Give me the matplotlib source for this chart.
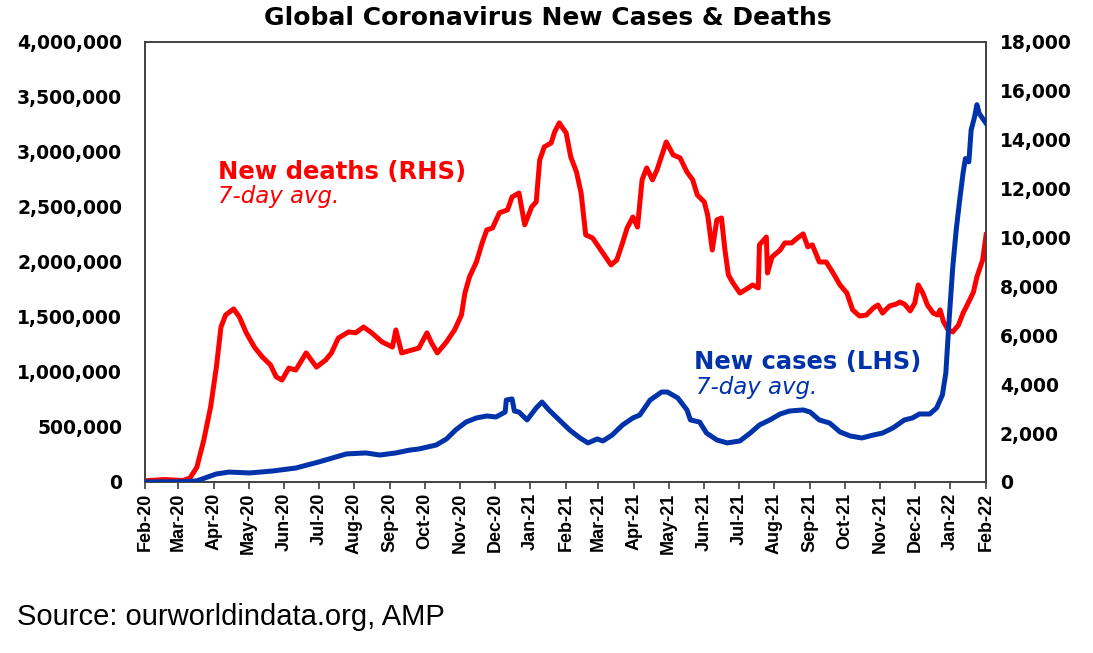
"""Global Coronavirus New Cases & Deaths — 7-day averages, dual axis."""

import matplotlib
matplotlib.use("Agg")
import matplotlib.pyplot as plt
import matplotlib.dates as mdates
import pandas as pd
from matplotlib.ticker import FuncFormatter, MultipleLocator

plt.rcParams["font.family"] = ["Liberation Sans", "DejaVu Sans"]
WIDE = ["DejaVu Sans"]  # the chart's bold labels are set in a wide face

# ── Data ──────────────────────────────────────────────────────────
DEATH_DATES = [
    "2020-02-01", "2020-02-18", "2020-03-05", "2020-03-11", "2020-03-17",
    "2020-03-23", "2020-03-29", "2020-04-03", "2020-04-07", "2020-04-11",
    "2020-04-18", "2020-04-23", "2020-04-29", "2020-05-06", "2020-05-13",
    "2020-05-20", "2020-05-25", "2020-05-30", "2020-06-05", "2020-06-11",
    "2020-06-20", "2020-06-29", "2020-07-07", "2020-07-12", "2020-07-18",
    "2020-07-27", "2020-08-02", "2020-08-09", "2020-08-16", "2020-08-25",
    "2020-09-03", "2020-09-06", "2020-09-11", "2020-09-20", "2020-09-26",
    "2020-10-03", "2020-10-07", "2020-10-12", "2020-10-20", "2020-10-27",
    "2020-11-02", "2020-11-05", "2020-11-09", "2020-11-15", "2020-11-20",
    "2020-11-24", "2020-11-29", "2020-12-05", "2020-12-12", "2020-12-16",
    "2020-12-22", "2020-12-27", "2021-01-02", "2021-01-06", "2021-01-09",
    "2021-01-13", "2021-01-19", "2021-01-22", "2021-01-26", "2021-02-01",
    "2021-02-05", "2021-02-10", "2021-02-14", "2021-02-18", "2021-02-24",
    "2021-03-02", "2021-03-06", "2021-03-12", "2021-03-17", "2021-03-22",
    "2021-03-26", "2021-03-31", "2021-04-04", "2021-04-08", "2021-04-12",
    "2021-04-17", "2021-04-21", "2021-04-29", "2021-05-05", "2021-05-11",
    "2021-05-17", "2021-05-22", "2021-05-26", "2021-06-01", "2021-06-04",
    "2021-06-08", "2021-06-12", "2021-06-16", "2021-06-19", "2021-06-22",
    "2021-06-26", "2021-07-02", "2021-07-08", "2021-07-13", "2021-07-18",
    "2021-07-19", "2021-07-25", "2021-07-26", "2021-07-30", "2021-08-06",
    "2021-08-10", "2021-08-16", "2021-08-21", "2021-08-26", "2021-08-30",
    "2021-09-03", "2021-09-09", "2021-09-15", "2021-09-21", "2021-09-27",
    "2021-10-03", "2021-10-08", "2021-10-14", "2021-10-20", "2021-10-26",
    "2021-10-30", "2021-11-03", "2021-11-09", "2021-11-15", "2021-11-18",
    "2021-11-22", "2021-11-27", "2021-12-01", "2021-12-04", "2021-12-08",
    "2021-12-12", "2021-12-17", "2021-12-21", "2021-12-23", "2021-12-26",
    "2021-12-30", "2022-01-03", "2022-01-08", "2022-01-12", "2022-01-16",
    "2022-01-21", "2022-01-24", "2022-01-29", "2022-02-01",
]
DEATHS = [
    50, 100, 60, 160, 600,
    1700, 3070, 4700, 6340, 6830,
    7080, 6750, 6100, 5520, 5110,
    4790, 4300, 4170, 4660, 4580,
    5280, 4700, 4990, 5280, 5890,
    6140, 6100, 6340, 6100, 5730,
    5520, 6220, 5280, 5400, 5480,
    6100, 5690, 5280, 5730, 6220,
    6830, 7730, 8390, 9000, 9780,
    10310, 10390, 11010, 11130, 11660,
    11820, 10520, 11250, 11460, 13170,
    13710, 13870, 14320, 14690, 14280,
    13300, 12680, 11820, 10110, 9980,
    9570, 9290, 8880, 9080, 9780,
    10390, 10840, 10430, 12360, 12850,
    12360, 12770, 13910, 13380, 13260,
    12680, 12360, 11740, 11460, 10920,
    9490, 10720, 10800, 9490, 8470,
    8140, 7730, 7900, 8060, 7940,
    9700, 10020, 8550, 9210, 9490,
    9780, 9780, 9980, 10150, 9620,
    9700, 9000, 9000, 8550, 8060,
    7730, 7040, 6790, 6830, 7120,
    7240, 6910, 7200, 7280, 7360,
    7280, 7000, 7320, 8060, 7730,
    7240, 6910, 6830, 7040, 6550,
    6220, 6140, 6420, 6910, 7280,
    7770, 8390, 9080, 10110,
]

CASE_DATES = [
    "2020-02-01", "2020-03-05", "2020-03-17", "2020-03-25", "2020-04-03",
    "2020-04-14", "2020-05-02", "2020-05-22", "2020-06-11", "2020-07-01",
    "2020-07-25", "2020-08-11", "2020-08-23", "2020-09-06", "2020-09-18",
    "2020-09-26", "2020-10-11", "2020-10-20", "2020-10-28", "2020-11-06",
    "2020-11-15", "2020-11-24", "2020-12-02", "2020-12-10", "2020-12-11",
    "2020-12-16", "2020-12-18", "2020-12-22", "2020-12-29", "2021-01-06",
    "2021-01-11", "2021-01-17", "2021-01-26", "2021-02-04", "2021-02-13",
    "2021-02-20", "2021-02-28", "2021-03-05", "2021-03-13", "2021-03-22",
    "2021-03-31", "2021-04-06", "2021-04-15", "2021-04-25", "2021-04-30",
    "2021-05-09", "2021-05-17", "2021-05-20", "2021-05-28", "2021-06-03",
    "2021-06-12", "2021-06-21", "2021-07-02", "2021-07-11", "2021-07-19",
    "2021-07-28", "2021-08-06", "2021-08-14", "2021-08-26", "2021-09-01",
    "2021-09-09", "2021-09-18", "2021-09-27", "2021-10-06", "2021-10-16",
    "2021-10-26", "2021-11-03", "2021-11-12", "2021-11-22", "2021-11-29",
    "2021-12-05", "2021-12-14", "2021-12-20", "2021-12-25", "2021-12-28",
    "2021-12-31", "2022-01-03", "2022-01-06", "2022-01-09", "2022-01-12",
    "2022-01-14", "2022-01-17", "2022-01-19", "2022-01-22", "2022-01-24",
    "2022-01-26", "2022-02-01",
]
CASES = [
    0, 2000, 10000, 40000, 73000,
    90000, 82000, 100000, 127000, 182000,
    255000, 264000, 245000, 264000, 290000,
    300000, 336000, 391000, 473000, 545000,
    582000, 600000, 591000, 636000, 745000,
    755000, 645000, 636000, 564000, 673000,
    727000, 655000, 564000, 473000, 400000,
    355000, 391000, 373000, 427000, 518000,
    582000, 609000, 745000, 818000, 818000,
    764000, 655000, 564000, 545000, 445000,
    382000, 355000, 373000, 445000, 518000,
    564000, 618000, 645000, 655000, 636000,
    564000, 536000, 455000, 418000, 400000,
    427000, 445000, 491000, 564000, 582000,
    618000, 618000, 673000, 791000, 991000,
    1500000, 1950000, 2290000, 2560000, 2810000,
    2940000, 2910000, 3200000, 3320000, 3430000,
    3350000, 3260000,
]

LEFT_MAX, LEFT_STEP = 4_000_000, 500_000
RIGHT_MAX, RIGHT_STEP = 18_000, 2_000

C_RED = "#FF0000"
C_BLUE = "#0033AA"


def main():
    death_dates = pd.to_datetime(DEATH_DATES)
    case_dates = pd.to_datetime(CASE_DATES)

    fig = plt.figure(figsize=(10.93, 6.53), dpi=100)
    fig.patch.set_facecolor("white")
    ax = fig.add_axes([0.1327, 0.2619, 0.7695, 0.6738])
    ax2 = ax.twinx()

    ax.plot(case_dates, CASES, color=C_BLUE, lw=3.6, solid_joinstyle="round",
            zorder=3)
    ax2.plot(death_dates, DEATHS, color=C_RED, lw=3.6, solid_joinstyle="round",
             zorder=3)
    # blue drawn on top of red
    ax.set_zorder(ax2.get_zorder() + 1)
    ax.patch.set_visible(False)

    ax.set_xlim(pd.Timestamp("2020-02-01"), pd.Timestamp("2022-02-01"))
    ax.set_ylim(0, LEFT_MAX)
    ax2.set_ylim(0, RIGHT_MAX)
    ax.yaxis.set_major_locator(MultipleLocator(LEFT_STEP))
    ax2.yaxis.set_major_locator(MultipleLocator(RIGHT_STEP))
    fmt = FuncFormatter(lambda v, _: f"{v:,.0f}")
    ax.yaxis.set_major_formatter(fmt)
    ax2.yaxis.set_major_formatter(fmt)

    ax.xaxis.set_major_locator(mdates.MonthLocator())
    ax.xaxis.set_major_formatter(mdates.DateFormatter("%b-%y"))

    for a in (ax, ax2):
        for s in a.spines.values():
            s.set_color("#404040")
            s.set_linewidth(1.2)
    ax.tick_params(axis="x", direction="out", length=5, width=1.2,
                   color="#404040", labelsize=13, rotation=90, pad=3)
    ax.tick_params(axis="y", length=0, labelsize=13.5, pad=16.5)
    ax2.tick_params(axis="y", length=0, labelsize=13.5, pad=10)
    for lbl in ax.get_xticklabels():
        lbl.set_fontweight("bold")
    for lbl in ax.get_yticklabels() + ax2.get_yticklabels():
        lbl.set_fontweight("bold")
        lbl.set_family(WIDE)

    # ── Series annotations ─────────────────────────────────────────
    ax.text(0.087, 0.705, "New deaths (RHS)", transform=ax.transAxes,
            color=C_RED, fontsize=17.5, fontweight="bold", va="center",
            family=WIDE)
    ax.text(0.087, 0.648, "7-day avg.", transform=ax.transAxes,
            color=C_RED, fontsize=16.5, fontstyle="italic", va="center",
            family=WIDE)
    ax.text(0.653, 0.273, "New cases (LHS)", transform=ax.transAxes,
            color=C_BLUE, fontsize=17.5, fontweight="bold", va="center",
            family=WIDE)
    ax.text(0.655, 0.214, "7-day avg.", transform=ax.transAxes,
            color=C_BLUE, fontsize=16.5, fontstyle="italic", va="center",
            family=WIDE)

    fig.text(0.501, 0.972, "Global Coronavirus New Cases & Deaths",
             ha="center", va="center", fontsize=18, fontweight="bold",
             family=WIDE)
    fig.text(0.016, 0.055, "Source: ourworldindata.org, AMP",
             ha="left", va="center", fontsize=21)

    fig.savefig("out.png", dpi=100, facecolor="white")
    plt.close(fig)


if __name__ == "__main__":
    main()
